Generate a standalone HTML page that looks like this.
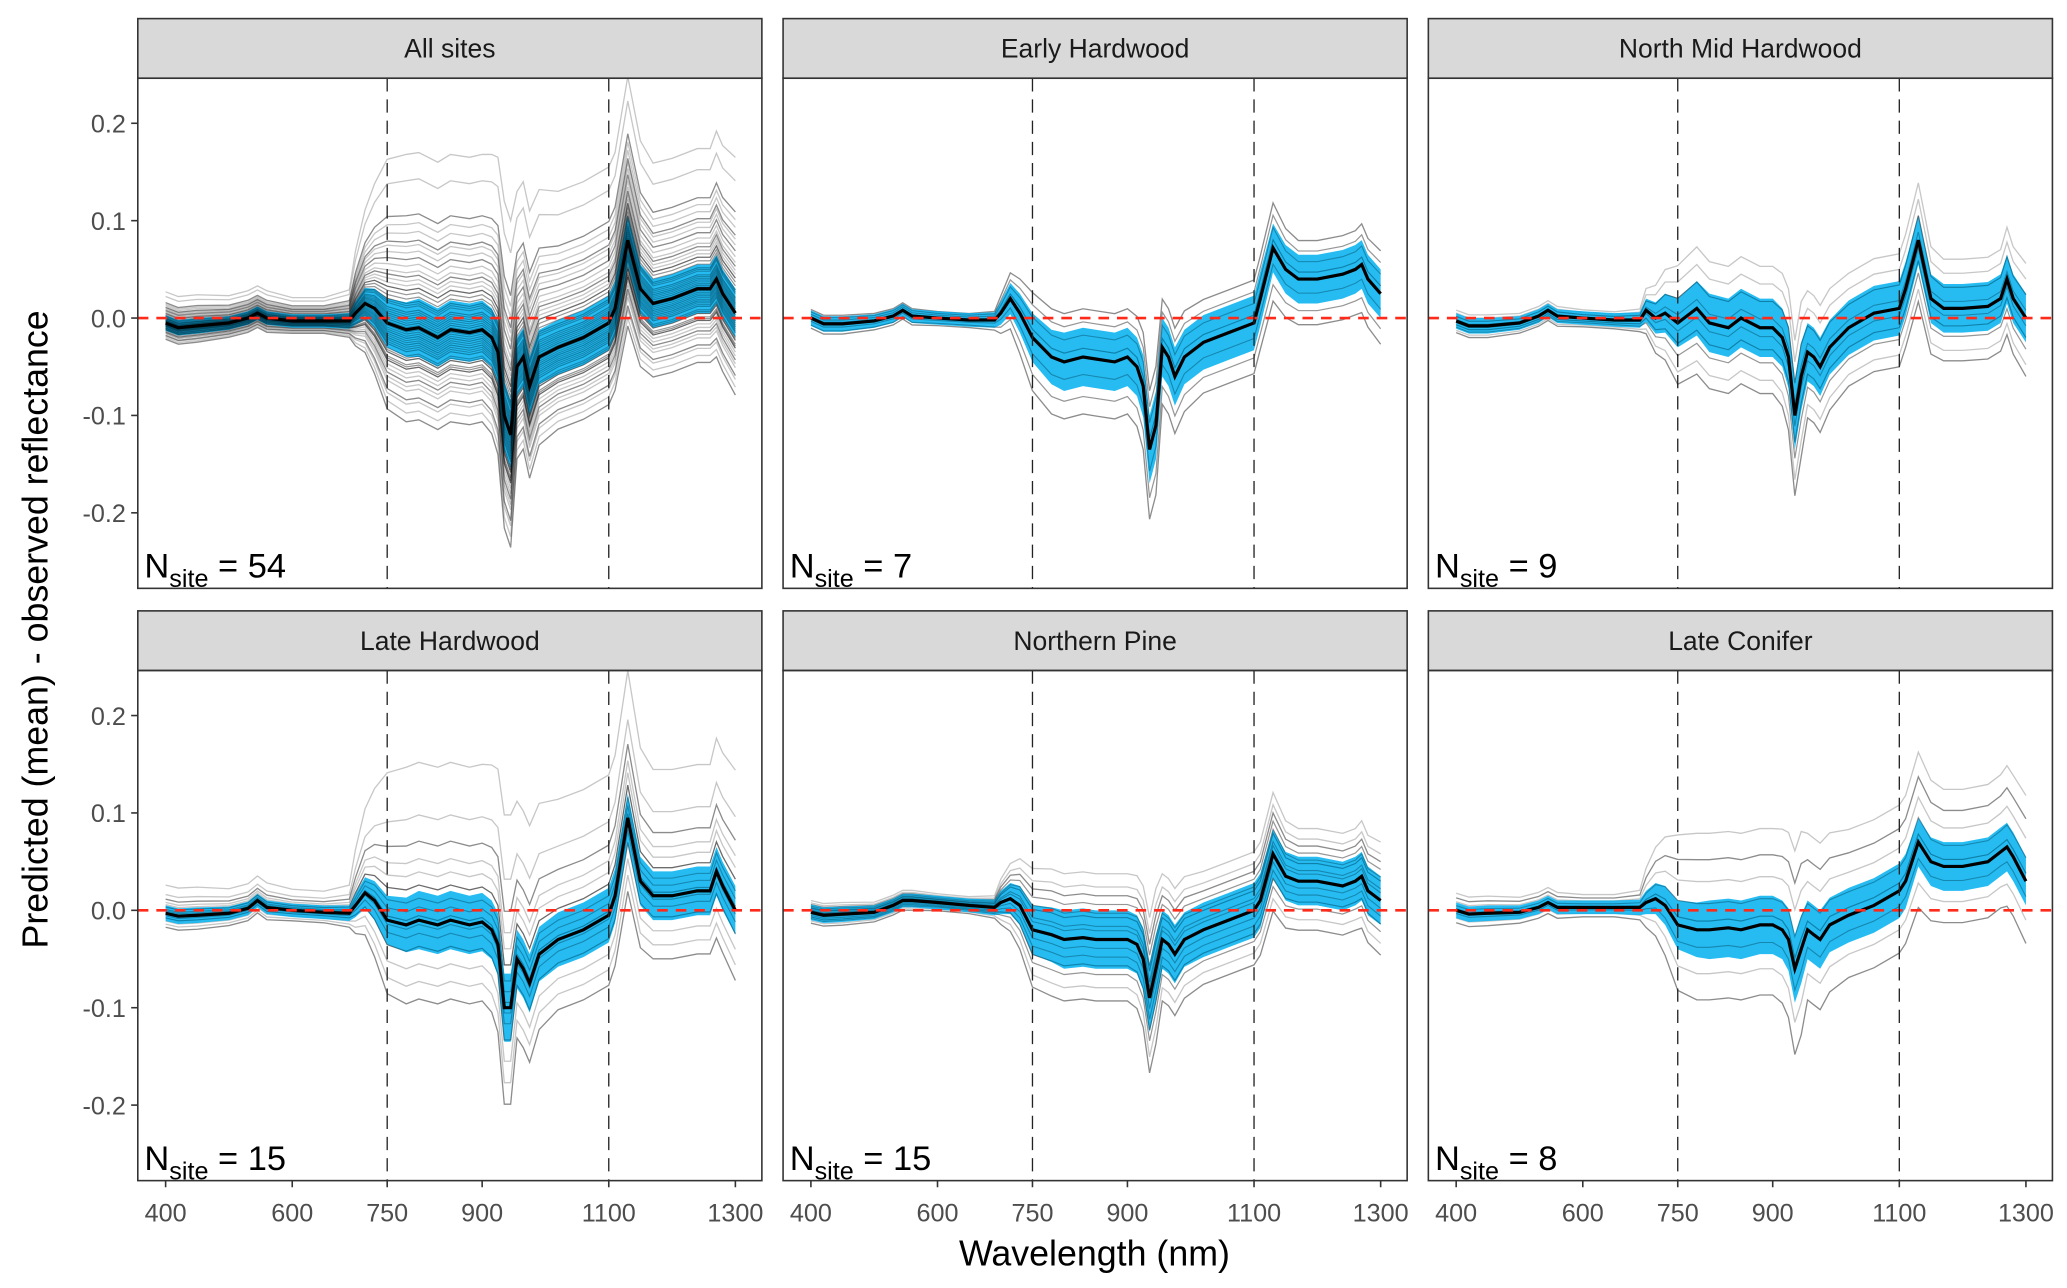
<!DOCTYPE html>
<html><head><meta charset="utf-8"><style>
html,body{margin:0;padding:0;background:#fff}
svg{display:block}
text{font-family:"Liberation Sans",sans-serif}
</style></head><body>
<svg id="chart" width="2067" height="1288" viewBox="0 0 1560 972" xmlns="http://www.w3.org/2000/svg"></svg>
<script>
// ---- data ----
const wavelengths = [400,420,450,500,530,545,560,600,650,690,700,715,730,750,780,800,830,850,880,900,915,925,935,945,955,965,975,990,1020,1060,1100,1110,1130,1150,1170,1200,1240,1260,1270,1280,1300];
const panelTitles = ["All sites","Early Hardwood","North Mid Hardwood","Late Hardwood","Northern Pine","Late Conifer"];
const siteCounts = [54,7,9,15,15,8];
const meanAll = [-0.005,-0.01,-0.008,-0.005,0,0.005,0,-0.003,-0.003,-0.003,0.005,0.015,0.01,-0.005,-0.012,-0.01,-0.02,-0.012,-0.015,-0.012,-0.02,-0.035,-0.1,-0.12,-0.05,-0.04,-0.07,-0.04,-0.03,-0.02,-0.005,0.01,0.08,0.03,0.015,0.02,0.03,0.03,0.04,0.025,0.005];
const meanEarly = [0,-0.006,-0.006,-0.003,0.002,0.008,0.002,0,-0.002,-0.002,0.005,0.02,0.005,-0.02,-0.04,-0.045,-0.04,-0.042,-0.045,-0.04,-0.05,-0.07,-0.135,-0.11,-0.03,-0.04,-0.06,-0.04,-0.025,-0.015,-0.005,0.02,0.072,0.05,0.04,0.04,0.045,0.05,0.055,0.04,0.025];
const meanNorthMid = [-0.003,-0.008,-0.008,-0.005,0.002,0.008,0.002,0,-0.002,-0.002,0.008,0.0,0.005,-0.005,0.01,-0.005,-0.01,0.0,-0.01,-0.01,-0.02,-0.04,-0.1,-0.06,-0.035,-0.04,-0.05,-0.03,-0.01,0.005,0.01,0.03,0.08,0.02,0.01,0.01,0.012,0.02,0.04,0.02,0.0];
const meanLateHard = [-0.003,-0.006,-0.005,-0.003,0.002,0.01,0.003,0.0,-0.002,-0.003,0.005,0.018,0.01,-0.01,-0.015,-0.01,-0.015,-0.01,-0.015,-0.012,-0.02,-0.035,-0.1,-0.1,-0.05,-0.06,-0.075,-0.045,-0.03,-0.02,-0.005,0.015,0.095,0.03,0.015,0.015,0.02,0.02,0.04,0.025,0.0];
const meanPine = [-0.002,-0.005,-0.004,-0.002,0.005,0.01,0.01,0.008,0.005,0.003,0.008,0.012,0.005,-0.02,-0.025,-0.03,-0.028,-0.03,-0.03,-0.03,-0.035,-0.05,-0.09,-0.06,-0.03,-0.035,-0.045,-0.03,-0.02,-0.01,0.0,0.01,0.058,0.035,0.03,0.03,0.025,0.03,0.035,0.02,0.01];
const meanConifer = [0,-0.004,-0.003,-0.002,0.003,0.008,0.003,0.003,0.003,0.003,0.008,0.012,0.005,-0.015,-0.02,-0.02,-0.018,-0.02,-0.015,-0.015,-0.02,-0.03,-0.06,-0.04,-0.02,-0.025,-0.03,-0.015,-0.005,0.005,0.02,0.03,0.07,0.05,0.045,0.045,0.05,0.06,0.065,0.055,0.03];
const bandHalf = [0.008,0.008,0.008,0.007,0.007,0.007,0.007,0.007,0.007,0.008,0.012,0.016,0.02,0.025,0.028,0.03,0.03,0.03,0.03,0.03,0.03,0.032,0.035,0.035,0.03,0.03,0.03,0.028,0.028,0.028,0.028,0.028,0.025,0.025,0.025,0.025,0.025,0.025,0.025,0.025,0.025];
const siteSpread = [0.008,0.008,0.008,0.007,0.007,0.007,0.007,0.006,0.006,0.008,0.016,0.024,0.032,0.042,0.045,0.045,0.045,0.045,0.045,0.045,0.047,0.05,0.055,0.055,0.045,0.045,0.045,0.043,0.04,0.04,0.04,0.04,0.042,0.038,0.036,0.036,0.036,0.036,0.038,0.038,0.04];
const offsetsAll = [-2.1,-1.9,-1.7,-1.6,-1.4,-1.3,-1.2,-1.1,-1.0,-0.9,-0.85,-0.8,-0.7,-0.65,-0.6,-0.5,-0.45,-0.4,-0.35,-0.3,-0.25,-0.2,-0.15,-0.1,-0.05,0,0.05,0.1,0.15,0.2,0.25,0.3,0.35,0.4,0.5,0.55,0.6,0.7,0.8,0.9,1.0,1.1,1.2,1.3,1.45,1.6,1.75,1.9,2.0,2.2,2.4,2.6,3.4,4.0];
const offsetsEarly = [-1.3,-0.9,-0.4,0.2,0.5,0.8,1.1];
const offsetsNorthMid = [-1.5,-1.2,-0.8,-0.5,-0.2,0.2,0.6,1.0,1.4];
const offsetsLateHard = [-1.8,-1.4,-1.0,-0.6,-0.3,-0.1,0.1,0.3,0.5,0.8,1.1,1.4,1.8,2.4,3.6];
const offsetsPine = [-1.4,-1.1,-0.8,-0.6,-0.4,-0.2,0,0.2,0.3,0.5,0.6,0.8,1.0,1.2,1.5];
const offsetsConifer = [-1.6,-1.0,-0.4,0.2,0.6,1.1,1.6,2.2];
const yTicks = [-0.2,-0.1,0.0,0.1,0.2];
const yTickLabels = ["-0.2","-0.1","0.0","0.1","0.2"];
const xTicks = [400,600,750,900,1100,1300];
const xTickLabels = ["400","600","750","900","1100","1300"];
const vLines = [750,1100];

const means = [meanAll,meanEarly,meanNorthMid,meanLateHard,meanPine,meanConifer];
const offs = [offsetsAll,offsetsEarly,offsetsNorthMid,offsetsLateHard,offsetsPine,offsetsConifer];

// ---- layout ----
const NS="http://www.w3.org/2000/svg";
const svg=document.getElementById('chart');
function mk(tag,attrs,parent){const e=document.createElementNS(NS,tag);for(const k in attrs)e.setAttribute(k,attrs[k]);(parent||svg).appendChild(e);return e;}
const colX=[104,591,1078], panelW=471;
const rowY=[14,461], stripH=45, plotH=385;

for(let p=0;p<6;p++){
  const cx=colX[p%3], ry=rowY[Math.floor(p/3)];
  const top=ry+stripH, bottom=top+plotH;
  const g=mk('g',{});
  
  
  const xS=w=>cx+21+(w-400)*(430/900);
  const yS=v=>top+181-v*735;
  const clipId='clip'+p;
  const cp=mk('clipPath',{id:clipId},g); mk('rect',{x:cx,y:top,width:panelW,height:plotH},cp);
  const strip=mk('rect',{x:cx,y:ry,width:panelW,height:stripH,fill:'#d9d9d9',stroke:'#333','stroke-width':1.2},g);
  
  
  const st=mk('text',{x:cx+panelW/2,y:ry+stripH/2+7,'text-anchor':'middle','font-size':20,fill:'#1a1a1a'},g);
  st.textContent=panelTitles[p];
  
  
  const pg=mk('g',{'clip-path':'url(#'+clipId+')'},g);
  const sites=offs[p], mean=means[p];
  sites.forEach((o,si)=>{
    const pts=wavelengths.map((w,i)=>xS(w).toFixed(1)+','+yS(mean[i]+o*siteSpread[i]).toFixed(1)).join(' ');
    const l=mk('polyline',{points:pts,fill:'none',stroke:'#000','stroke-opacity':(si%3==0?0.45:0.22),'stroke-width':1},pg);
    
    
  });
  const up=wavelengths.map((w,i)=>xS(w).toFixed(1)+','+yS(mean[i]+bandHalf[i]).toFixed(1));
  const lo=wavelengths.map((w,i)=>xS(w).toFixed(1)+','+yS(mean[i]-bandHalf[i]).toFixed(1)).reverse();
  const band=mk('polygon',{points:up.concat(lo).join(' '),fill:'#00b0f0','fill-opacity':0.85},pg);
  
  
  sites.forEach((o,si)=>{ if(Math.abs(o)<1.0){
    const pts=wavelengths.map((w,i)=>xS(w).toFixed(1)+','+yS(mean[i]+o*siteSpread[i]).toFixed(1)).join(' ');
    const l=mk('polyline',{points:pts,fill:'none',stroke:'#000','stroke-opacity':0.25,'stroke-width':0.8},pg);
    
    
  }});
  const mpts=wavelengths.map((w,i)=>xS(w).toFixed(1)+','+yS(mean[i]).toFixed(1)).join(' ');
  const ml=mk('polyline',{points:mpts,fill:'none',stroke:'#000','stroke-width':2.4},pg);
  
  
  const z=mk('line',{x1:cx,x2:cx+panelW,y1:yS(0),y2:yS(0),stroke:'#ff2a1a','stroke-width':2,'stroke-dasharray':'8,6'},g);
  
  
  vLines.forEach(v=>{
    const vl=mk('line',{x1:xS(v),x2:xS(v),y1:top,y2:bottom,stroke:'#222','stroke-width':1,'stroke-dasharray':'10,6'},g);
    
    
  });
  const fr=mk('rect',{x:cx,y:top,width:panelW,height:plotH,fill:'none',stroke:'#333','stroke-width':1.2},g);
  
  
  const nt=mk('text',{x:cx+5,y:bottom-8,'font-size':26,fill:'#000'},g);
  nt.innerHTML='N<tspan font-size="19" dy="7">site</tspan><tspan dy="-7"> = '+siteCounts[p]+'</tspan>';
  
  
  if(p%3==0){
    yTicks.forEach((t,i)=>{
      mk('line',{x1:cx-5,x2:cx,y1:yS(t),y2:yS(t),stroke:'#333','stroke-width':1.2},g);
      const tl=mk('text',{x:cx-9,y:yS(t)+7,'text-anchor':'end','font-size':19,fill:'#4d4d4d'},g);
      tl.textContent=yTickLabels[i];
      
      
    });
  }
  if(p>=3){
    xTicks.forEach((t,i)=>{
      mk('line',{x1:xS(t),x2:xS(t),y1:bottom,y2:bottom+5,stroke:'#333','stroke-width':1.2},g);
      const tl=mk('text',{x:xS(t),y:bottom+31,'text-anchor':'middle','font-size':19,fill:'#4d4d4d'},g);
      tl.textContent=xTickLabels[i];
      
      
    });
  }
}
const xt=mk('text',{x:826,y:955,'text-anchor':'middle','font-size':27,fill:'#000'});
xt.textContent='Wavelength (nm)';


const yt=mk('text',{x:0,y:0,'text-anchor':'middle','font-size':27,fill:'#000',transform:'translate(36,475) rotate(-90)'});
yt.textContent='Predicted (mean) - observed reflectance';


</script>
</body></html>
